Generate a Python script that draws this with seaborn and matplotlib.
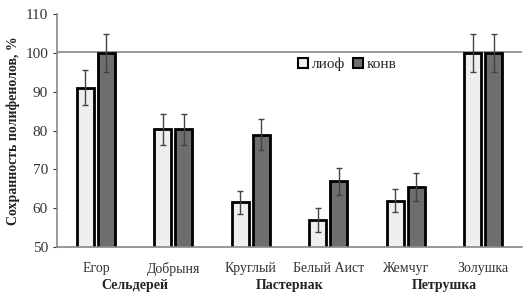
import numpy as np
import matplotlib
matplotlib.use('Agg')
import matplotlib.pyplot as plt
import pandas as pd
import seaborn as sns

varieties = ['Егор', 'Добрыня', 'Круглый', 'Белый Аист', 'Жемчуг', 'Золушка']
groups = ['Сельдерей', 'Пастернак', 'Петрушка']
methods = ['лиоф', 'конв']
lioph = [91, 80.3, 61.5, 57, 62, 100]
konv = [100, 80.3, 79, 67, 65.5, 100]
lioph_err = [4.5, 4, 3, 3, 3, 5]
konv_err = [5, 4, 4, 3.5, 3.5, 5]

df = pd.DataFrame({
    'variety': varieties * 2,
    'method': [methods[0]] * 6 + [methods[1]] * 6,
    'value': lioph + konv,
    'err': lioph_err + konv_err,
})

sns.set_style('white')
plt.rcParams['font.family'] = ['Liberation Serif', 'DejaVu Serif']

fig = plt.figure(figsize=(5.24, 3.01), dpi=100)
ax = fig.add_axes([0.109, 0.179, 0.887, 0.774])

sns.barplot(data=df, x='variety', y='value', hue='method', order=varieties,
            hue_order=methods, palette=['#efefef', '#6e6e6e'], width=0.54,
            errorbar=None, edgecolor='black', linewidth=2, ax=ax)

# narrow each bar a bit so the pair has a gap, then add the error bars
for cont, m in zip(ax.containers, methods):
    sub = df[df.method == m].set_index('variety').loc[varieties]
    xs = []
    for p in cont.patches:
        c = p.get_x() + p.get_width() / 2
        w = p.get_width() * 0.82
        p.set_x(c - w / 2)
        p.set_width(w)
        xs.append(c)
    ax.errorbar(xs, sub['value'], yerr=sub['err'], fmt='none', ecolor='#444444',
                elinewidth=1, capsize=2.5, capthick=1)

ax.axhline(100.3, color='#888888', lw=1.2, zorder=0)
ax.set_ylim(50, 110)
ax.set_xlim(-0.5, 5.5)
ax.set_yticks(range(50, 111, 10))
ax.tick_params(axis='y', labelsize=11, colors='#333333', length=3, direction='out', left=True)
ax.tick_params(axis='x', labelsize=10, colors='#333333', length=0, pad=11)
for s in ['top', 'right']:
    ax.spines[s].set_visible(False)
for s in ['left', 'bottom']:
    ax.spines[s].set_color('#888888')
    ax.spines[s].set_linewidth(1.2)

ax.set_xlabel('')
ax.set_ylabel('Сохранность полифенолов, %', fontsize=10, fontweight='bold', color='#222222')

for i, g in enumerate(groups):
    ax.text(0.5 + 2 * i, -0.165, g, transform=ax.get_xaxis_transform(), ha='center',
            va='center', fontsize=10, fontweight='bold', color='#222222')

leg = ax.legend(loc='upper left', bbox_to_anchor=(0.505, 0.84), ncol=2, frameon=False,
                fontsize=11, handlelength=0.65, handleheight=0.65, handletextpad=0.25,
                columnspacing=0.5, borderaxespad=0)
for h in leg.legend_handles:
    h.set_linewidth(1.5)

fig.savefig('out.png', dpi=100)
